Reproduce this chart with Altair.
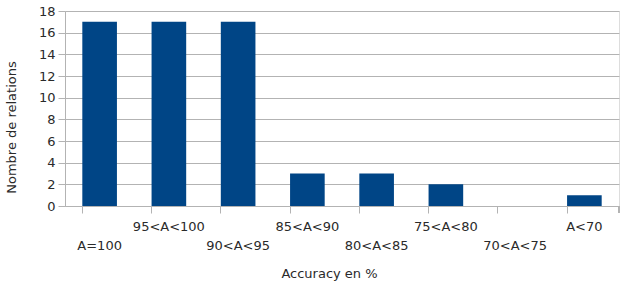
import altair as alt
import pandas as pd

categories = ["A=100", "95<A<100", "90<A<95", "85<A<90", "80<A<85", "75<A<80", "70<A<75", "A<70"]
values = [17, 17, 17, 3, 3, 2, 0, 1]

df = pd.DataFrame({"cat": categories, "n": values})
df["row"] = [i % 2 for i in range(len(categories))]

W, H = 554, 195
FONT = "DejaVu Sans"
GRID = "#b3b3b3"
TXT = "#2a2a2a"

xenc = alt.X("cat:N", sort=categories, scale=alt.Scale(paddingInner=0.5, paddingOuter=0.25),
             axis=alt.Axis(labels=False, title="Accuracy en %", bandPosition=0, tickSize=7,
                           tickColor=GRID, domainColor=GRID, grid=False,
                           titleFont=FONT, titleFontSize=13, titleFontWeight="normal",
                           titleColor=TXT, titleX=264, titleY=67, titleBaseline="middle",
                           titleAlign="center"))

bars = alt.Chart(df).mark_bar(color="#004586").encode(
    x=xenc,
    y=alt.Y("n:Q", scale=alt.Scale(domain=[0, 18]),
            axis=alt.Axis(values=list(range(0, 19, 2)), title="Nombre de relations",
                          tickSize=7, labelPadding=3, tickColor=GRID, domainColor=GRID,
                          gridColor=GRID, labelFont=FONT, labelFontSize=13, labelColor=TXT,
                          titleFont=FONT, titleFontSize=13, titleFontWeight="normal",
                          titleColor=TXT, titleX=-54, titleY=116, titleBaseline="middle",
                          titleAlign="center")),
)

labels = alt.Chart(df).mark_text(font=FONT, fontSize=13, color=TXT, baseline="middle").encode(
    x=alt.X("cat:N", sort=categories),
    y=alt.Y("row:Q", scale=alt.Scale(domain=[0, 1], range=[H + 39.5, H + 21]), axis=None),
    text="cat:N",
)

end_tick = alt.Chart(df).mark_rule(color=GRID).encode(
    x=alt.value(W), y=alt.value(H), y2=alt.value(H + 7)
)

chart = alt.layer(bars, labels, end_tick).resolve_scale(y="independent").properties(
    width=W, height=H,
    autosize=alt.AutoSizeParams(type="none"),
    padding={"left": 65, "top": 11, "right": 6, "bottom": 76},
).configure_view(stroke=GRID).configure(background="white")

chart.save("out.html", embed_options={"renderer": "svg", "actions": False})
